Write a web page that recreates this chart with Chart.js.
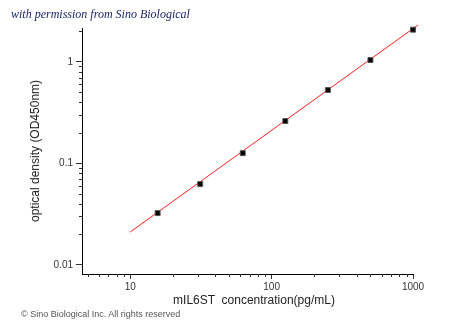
<!DOCTYPE html>
<html>
<head>
<meta charset="utf-8">
<script src="https://cdn.jsdelivr.net/npm/chart.js@4.4.1/dist/chart.umd.min.js"></script>
<style>
  html, body { margin: 0; padding: 0; background: #fff; }
  #wrap { position: relative; width: 450px; height: 333px; }
  #chart { position: absolute; left: 0; top: 0; }
  .lbl { position: absolute; font-family: "Liberation Sans", Arial, sans-serif; color: #222; white-space: pre; line-height: 1; }
  #permission { left: 11px; top: 8px; font-family: "Liberation Serif", serif; font-style: italic; font-size: 12px; color: #1c2566; }
  #ytitle { left: 35px; top: 151px; font-size: 12px; transform: translate(-50%, -50%) rotate(-90deg); }
  #xtitle { left: 254px; top: 294px; font-size: 12px; transform: translateX(-50%); }
  #copyright { left: 21px; top: 310px; font-size: 9px; color: #555; }
</style>
</head>
<body>
<div id="wrap">
  <canvas id="chart" width="450" height="333"></canvas>
  <div class="lbl" id="permission">with permission from Sino Biological</div>
  <div class="lbl" id="ytitle">optical density (OD450nm)</div>
  <div class="lbl" id="xtitle">mIL6ST  concentration(pg/mL)</div>
  <div class="lbl" id="copyright">© Sino Biological Inc. All rights reserved</div>
</div>
<script>
// standard curve points
const concentrations = [15.625, 31.25, 62.5, 125, 250, 500, 1000];
const odValues       = [0.0324, 0.0625, 0.126, 0.261, 0.527, 1.04, 2.07];

// fitted line ends
const fitX = [10, 1085];
const fitY = [0.0211, 2.30];

// axis ticks
const xMajorTicks = [10, 100, 1000];
const xMinorTicks = [5, 6, 7, 8, 9, 20, 30, 40, 50, 60, 70, 80, 90,
                     200, 300, 400, 500, 600, 700, 800, 900];
const yMajorTicks = [0.01, 0.1, 1];
const yMinorTicks = [0.02, 0.03, 0.04, 0.05, 0.06, 0.07, 0.08, 0.09,
                     0.2, 0.3, 0.4, 0.5, 0.6, 0.7, 0.8, 0.9, 2];

// short minor ticks, drawn from the scales
const minorTicks = {
  id: 'minorTicks',
  afterDraw(chart) {
    const { ctx, chartArea } = chart;
    const xs = chart.scales.x, ys = chart.scales.y;
    ctx.save();
    ctx.strokeStyle = '#333';
    ctx.lineWidth = 1;
    ctx.beginPath();
    xMinorTicks.forEach(v => {
      const px = Math.round(xs.getPixelForValue(v)) + 0.5;
      ctx.moveTo(px, chartArea.bottom);
      ctx.lineTo(px, chartArea.bottom + 3);
    });
    yMinorTicks.forEach(v => {
      const py = Math.round(ys.getPixelForValue(v)) + 0.5;
      ctx.moveTo(chartArea.left, py);
      ctx.lineTo(chartArea.left - 3, py);
    });
    ctx.stroke();
    ctx.restore();
  }
};

new Chart(document.getElementById('chart'), {
  data: {
    datasets: [
      {
        type: 'line',
        data: fitX.map((x, i) => ({ x, y: fitY[i] })),
        borderColor: '#ff2020',
        borderWidth: 1,
        pointRadius: 0,
        clip: false,
        order: 2
      },
      {
        type: 'scatter',
        data: concentrations.map((x, i) => ({ x, y: odValues[i] })),
        pointStyle: 'rect',
        pointRadius: 3.5,
        backgroundColor: '#000',
        borderColor: '#555',
        borderWidth: 1,
        clip: false,
        order: 1
      }
    ]
  },
  options: {
    responsive: false,
    animation: false,
    layout: { padding: { left: 0, top: 28, right: 37, bottom: 26 } },
    plugins: { legend: { display: false }, tooltip: { enabled: false } },
    scales: {
      x: {
        type: 'logarithmic',
        min: 4.56,
        max: 1000,
        afterBuildTicks: s => { s.ticks = xMajorTicks.map(v => ({ value: v })); },
        afterFit: s => { s.height = 33; },
        border: { display: true, color: '#000', width: 1 },
        grid: { drawOnChartArea: false, drawTicks: true, tickLength: 5, tickColor: '#333' },
        ticks: {
          padding: 2,
          color: '#333',
          font: { family: 'Liberation Sans', size: 10 },
          maxRotation: 0,
          callback: v => String(v)
        }
      },
      y: {
        type: 'logarithmic',
        min: 0.00815,
        max: 2.15,
        afterBuildTicks: s => { s.ticks = yMajorTicks.map(v => ({ value: v })); },
        afterFit: s => { s.width = 82; },
        border: { display: true, color: '#000', width: 1 },
        grid: { drawOnChartArea: false, drawTicks: true, tickLength: 6, tickColor: '#333' },
        ticks: {
          padding: 3,
          color: '#333',
          font: { family: 'Liberation Sans', size: 10 },
          callback: v => String(v)
        }
      }
    }
  },
  plugins: [minorTicks]
});
</script>
</body>
</html>
